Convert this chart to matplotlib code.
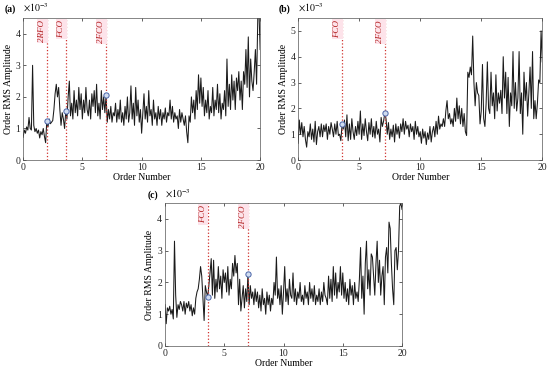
import numpy as np
import matplotlib.pyplot as plt

plt.rcParams['font.family'] = ['Liberation Serif', 'DejaVu Serif']
plt.rcParams['mathtext.fontset'] = 'stix'

# order axis, step 0.1 from 0 to 20
order = np.round(np.arange(0, 20.05, 0.1), 1)

# amplitudes in units of 1e-3
amp_a = [0.72, 0.95, 0.85, 1.05, 0.95, 1.35, 1.0, 0.95, 3.0, 1.1,
         0.9, 1.0, 0.85, 0.95, 0.7, 0.9, 0.8, 1.0, 0.75, 0.55,
         1.25, 1.05, 1.3, 1.15, 1.2, 1.25, 1.6, 2.1, 2.4, 2.0,
         2.3, 1.6, 1.1, 1.5, 1.3, 1.0, 1.55, 1.3, 2.0, 2.5,
         1.4, 1.8, 1.3, 2.2, 1.5, 1.9, 1.4, 2.3, 1.6, 2.1,
         1.3, 1.9, 1.5, 2.3, 1.6, 1.4, 1.9, 1.3, 2.1, 1.7,
         2.2, 1.5, 2.4, 1.4, 1.8, 1.3, 2.2, 1.6, 2.0, 1.5,
         2.05, 1.2, 1.6, 1.3, 1.7, 1.2, 1.5, 1.4, 1.8, 1.2,
         1.6, 1.3, 1.9, 1.2, 1.5, 1.1, 1.7, 1.3, 2.0, 1.2,
         1.5, 2.35, 1.3, 1.8, 1.1, 2.3, 1.4, 1.9, 1.2, 1.6,
         0.85, 1.5, 2.1, 1.3, 1.7, 1.2, 2.2, 1.4, 1.6, 1.1,
         1.9, 1.3, 1.5, 1.1, 1.7, 1.3, 1.6, 1.1, 1.5, 1.3,
         1.65, 1.2, 1.5, 1.4, 1.9, 1.3, 1.7, 1.2, 1.5, 1.3,
         1.4, 1.0, 1.6, 1.2, 1.5, 1.3, 1.1, 1.4, 0.9, 0.55,
         1.4, 1.2, 2.0, 1.5, 1.9, 1.3, 2.2, 1.6, 2.7, 1.8,
         2.6, 1.7, 2.3, 1.4, 1.9, 1.5, 2.2, 1.3, 1.7, 1.5,
         2.3, 1.4, 1.9, 1.6, 2.4, 1.5, 2.1, 1.3, 1.8, 1.6,
         2.2, 1.4, 3.2, 1.7, 2.4, 1.6, 2.7, 1.9, 2.5, 1.6,
         2.6, 2.2, 2.8, 1.9, 2.5, 1.6, 2.8, 2.4, 3.5, 2.3,
         3.9, 2.0, 3.2, 2.5, 2.2, 2.8, 3.5, 2.4, 4.5, 4.7,
         3.5]

amp_b = [0.65, 1.55, 1.0, 1.45, 0.9, 1.3, 0.8, 0.5, 1.1, 0.9,
         1.4, 0.8, 1.2, 0.7, 1.5, 0.6, 1.1, 1.3, 0.9, 1.4,
         0.9, 1.35, 1.1, 1.4, 0.8, 1.3, 1.0, 1.45, 1.2, 0.9,
         1.4, 1.0, 1.5, 0.95, 1.0, 0.75, 1.38, 1.2, 1.55, 0.9,
         1.75, 0.75, 1.4, 0.8, 1.6, 1.1, 0.8, 1.3, 0.95, 1.5,
         1.0, 1.9, 0.8, 1.4, 0.95, 1.6, 1.1, 0.75, 1.45, 1.0,
         1.6, 0.9, 1.3, 0.85, 1.5, 1.0, 1.2, 0.7, 1.65, 1.3,
         1.5, 1.82, 1.6, 1.0, 1.45, 0.8, 1.2, 0.9, 1.35, 0.7,
         1.4, 1.0, 1.3, 0.85, 1.4, 1.1, 1.6, 1.0, 1.5, 1.2,
         1.35, 0.9, 1.4, 1.1, 1.3, 0.8, 1.5, 1.0, 1.3, 0.9,
         1.1, 0.65, 1.2, 0.85, 1.1, 0.6, 1.05, 0.8, 1.3, 0.7,
         1.1, 1.3, 0.9, 1.5, 1.0, 1.7, 1.2, 1.4, 1.3, 1.6,
         1.3, 1.9, 2.3, 1.6, 1.8, 1.4, 1.6, 1.3, 2.0, 1.5,
         2.4, 1.6, 2.1, 1.4, 2.0, 1.3, 1.8, 1.1, 0.95, 3.4,
         3.2, 3.6, 3.3, 4.8, 3.0, 2.1, 3.0, 2.6, 2.5, 1.4,
         1.9, 3.7, 1.6, 1.3, 2.2, 3.8, 2.0, 1.8, 3.4, 2.1,
         2.6, 1.6, 3.3, 1.9, 2.6, 2.2, 2.7, 1.8, 4.0, 2.4,
         3.4, 1.8, 3.2, 1.3, 2.6, 2.1, 4.2, 2.0, 3.0, 1.9,
         2.4, 4.2, 1.8, 2.6, 1.0, 3.4, 2.3, 3.0, 1.7, 2.6,
         3.6, 2.0, 4.2, 1.6, 2.3, 1.6, 2.2, 3.1, 3.0, 5.0,
         3.8]

amp_c = [1.3, 0.7, 1.2, 1.1, 1.25, 1.0, 1.15, 0.85, 3.3, 1.6,
         0.9, 1.3, 1.15, 1.4, 1.3, 1.1, 1.4, 1.0, 1.35, 1.2,
         1.4, 1.1, 1.3, 0.95, 1.2, 1.0, 1.5, 1.7, 1.8, 2.1,
         2.5, 2.2, 1.5, 0.8, 1.9, 1.7, 1.55, 1.9, 2.3, 2.75,
         1.6, 2.7, 1.5, 2.1, 1.7, 2.5, 1.8, 2.2, 1.5, 2.4,
         2.0, 2.3, 1.7, 2.5, 1.6, 2.1, 1.8, 2.6, 2.2, 2.85,
         2.3, 2.6, 1.3, 2.1, 1.1, 1.5, 1.9, 1.2, 1.8, 1.4,
         2.28, 1.3, 1.9, 1.5, 1.7, 1.3, 1.8, 1.4, 1.7, 1.2,
         1.6, 1.1, 1.8, 1.3, 1.5, 1.0, 1.7, 1.3, 1.6, 1.1,
         1.5, 1.3, 2.0, 1.6, 2.8, 1.5, 1.8, 1.3, 1.9, 1.0,
         1.7, 2.5, 1.4, 1.8, 1.3, 2.1, 1.6, 1.5, 2.3, 1.4,
         1.8, 1.3, 1.7, 1.5, 2.0, 1.4, 1.6, 1.3, 1.9, 1.5,
         1.7, 1.3, 2.0, 1.5, 1.8, 1.4, 1.9, 1.3, 1.6, 1.4,
         1.8, 1.3, 1.7, 1.4, 2.0, 1.6, 1.5, 1.3, 2.2, 1.5,
         2.1, 1.4, 2.5, 1.6, 2.3, 1.5, 2.0, 1.7, 2.5, 1.6,
         2.3, 1.5, 2.0, 1.4, 1.8, 1.3, 2.1, 1.6, 1.9, 1.3,
         2.0, 1.5, 1.7, 1.4, 2.1, 3.1, 1.5, 2.2, 1.0, 2.6,
         3.3, 1.8, 2.4, 1.6, 2.9, 2.8, 2.2, 1.6, 2.6, 3.3,
         2.0, 2.7, 1.6, 2.2, 2.5, 1.3, 2.8, 3.1, 2.3, 3.9,
         3.7, 2.6, 1.8, 1.3, 3.0, 3.1, 2.4, 3.0, 4.4, 4.5,
         4.3]

# characteristic orders marked in each panel
marks_a = [2.0, 3.6, 7.0]
names_a = ['2RFO', 'FCO', '2FCO']
marks_b = [3.6, 7.1]
names_b = ['FCO', '2FCO']
marks_c = [3.6, 7.0]
names_c = ['FCO', '2FCO']


def panel(ax, amp, marks, names, ytop, yticks, tag):
    ax.plot(order, amp, color='#1a1a1a', lw=0.75)
    for m, nm in zip(marks, names):
        ax.axvline(m, color='#d0312d', ls=':', lw=0.9)
        i = int(np.argmin(np.abs(order - m)))
        ax.plot(order[i], amp[i], 'o', ms=3.8, mfc='#cfdcf0', mec='#4a64a8', mew=0.7)
        ax.text(m - 0.05, ytop * 0.985, nm, rotation=90, ha='right', va='top',
                color='#b22222', fontsize=6.5, style='italic',
                bbox=dict(facecolor='#fde3ea', edgecolor='none', pad=1.0))
    ax.set_xlim(0, 20)
    ax.set_ylim(0, ytop)
    ax.set_xticks([0, 5, 10, 15, 20])
    ax.set_yticks(yticks)
    ax.tick_params(direction='in', length=2, width=0.5, labelsize=7,
                   top=True, right=True, pad=2, colors='#222222')
    for s in ax.spines.values():
        s.set_linewidth(0.5)
        s.set_color('#555555')
    ax.set_xlabel('Order Number', fontsize=7, labelpad=1)
    ax.set_ylabel('Order RMS Amplitude', fontsize=7, labelpad=2)
    ax.text(0.0, 1.025, r'$\times10^{-3}$', transform=ax.transAxes, fontsize=7,
            ha='left', va='bottom')
    ax.text(-0.03, 1.025, tag, transform=ax.transAxes, fontsize=7,
            fontweight='bold', ha='right', va='bottom')


fig = plt.figure(figsize=(5.5, 3.74), dpi=100)
ax_a = fig.add_axes([0.042, 0.572, 0.431, 0.380])
ax_b = fig.add_axes([0.542, 0.572, 0.444, 0.380])
ax_c = fig.add_axes([0.300, 0.075, 0.431, 0.382])

panel(ax_a, amp_a, marks_a, names_a, 4.5, [0, 1, 2, 3, 4], '(a)')
panel(ax_b, amp_b, marks_b, names_b, 5.5, [0, 1, 2, 3, 4, 5], '(b)')
panel(ax_c, amp_c, marks_c, names_c, 4.5, [0, 1, 2, 3, 4], '(c)')

fig.savefig('out.png', dpi=100)
